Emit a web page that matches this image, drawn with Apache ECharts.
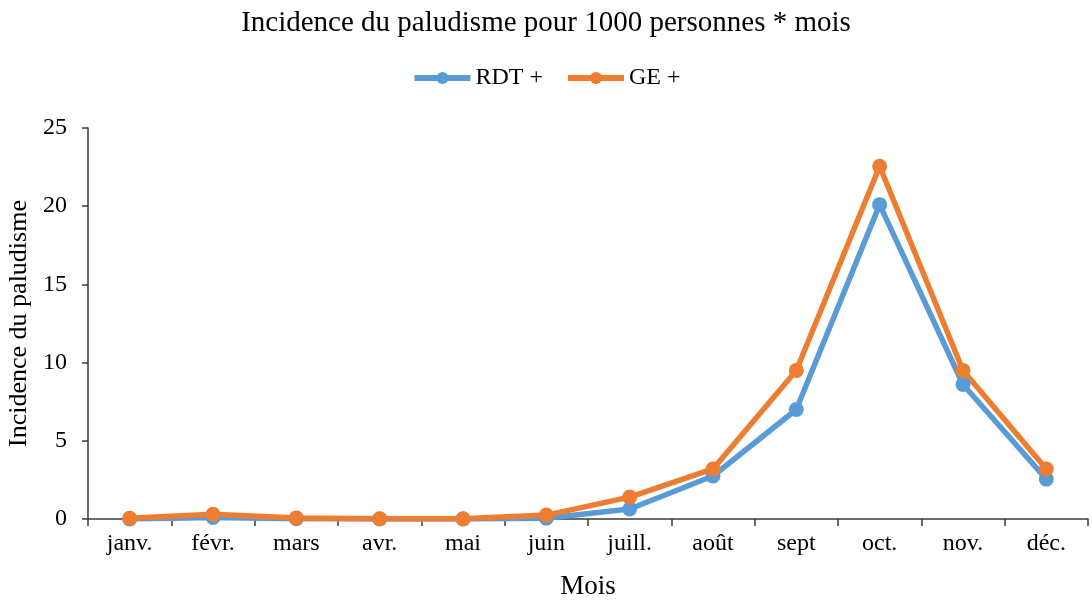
<!DOCTYPE html>
<html><head><meta charset="utf-8">
<script src="https://cdn.jsdelivr.net/npm/echarts@6/dist/echarts.min.js"></script>
<style>html,body{margin:0;padding:0;background:#fff}#c{width:1092px;height:601px}</style>
</head><body><div id="c"></div>
<script>
const categories = ['janv.','févr.','mars','avr.','mai','juin','juill.','août','sept','oct.','nov.','déc.'];
const rdt = [0, 0.1, 0.02, 0, 0, 0.05, 0.64, 2.75, 7.0, 20.1, 8.6, 2.55];
const ge = [0.05, 0.3, 0.07, 0.02, 0.01, 0.25, 1.4, 3.2, 9.5, 22.55, 9.5, 3.2];
const yTicks = [0, 5, 10, 15, 20, 25];
const font = 'Liberation Serif, Times New Roman, serif';
const chart = echarts.init(document.getElementById('c'));
chart.setOption({
  animation: false,
  textStyle: {fontFamily: font},
  title: {text: 'Incidence du paludisme pour 1000 personnes * mois', left: 'center', top: 4,
    textStyle: {fontFamily: font, fontSize: 29, fontWeight: 'normal', color: '#000'}},
  legend: {top: 61, left: 'center', itemWidth: 56, itemHeight: 15, itemGap: 22,
    lineStyle: {width: 6}, itemStyle: {borderWidth: 0},
    textStyle: {fontFamily: font, fontSize: 24, color: '#000'},
    data: ['RDT +', 'GE +']},
  grid: {left: 88, right: 4, top: 128, bottom: 82, containLabel: false, outerBoundsMode: 'none'},
  xAxis: {type: 'category', data: categories, boundaryGap: true,
    name: 'Mois', nameLocation: 'middle', nameGap: 54,
    nameTextStyle: {fontFamily: font, fontSize: 27, color: '#000'},
    axisLine: {lineStyle: {color: '#3a3a3a', width: 1.5}},
    axisTick: {show: true, length: 7, lineStyle: {color: '#3a3a3a', width: 1.5}},
    axisLabel: {fontFamily: font, fontSize: 24, color: '#000', margin: 13}},
  yAxis: {type: 'value', min: 0, max: 25, interval: 5,
    name: 'Incidence du paludisme', nameLocation: 'middle', nameGap: 53,
    nameTextStyle: {fontFamily: font, fontSize: 26, color: '#000'},
    axisLine: {show: true, lineStyle: {color: '#3a3a3a', width: 1.5}},
    axisTick: {show: true, length: 6, lineStyle: {color: '#3a3a3a', width: 1.5}},
    splitLine: {show: false},
    axisLabel: {fontFamily: font, fontSize: 24, color: '#000', margin: 21,
      formatter: v => yTicks.includes(v) ? String(v) : ''}},
  series: [
    {name: 'RDT +', type: 'line', data: rdt, symbol: 'circle', symbolSize: 15,
      lineStyle: {width: 5.5, color: '#5B9BD5'}, itemStyle: {color: '#5B9BD5'}},
    {name: 'GE +', type: 'line', data: ge, symbol: 'circle', symbolSize: 15,
      lineStyle: {width: 5.5, color: '#ED7D31'}, itemStyle: {color: '#ED7D31'}}
  ]
});
</script></body></html>
